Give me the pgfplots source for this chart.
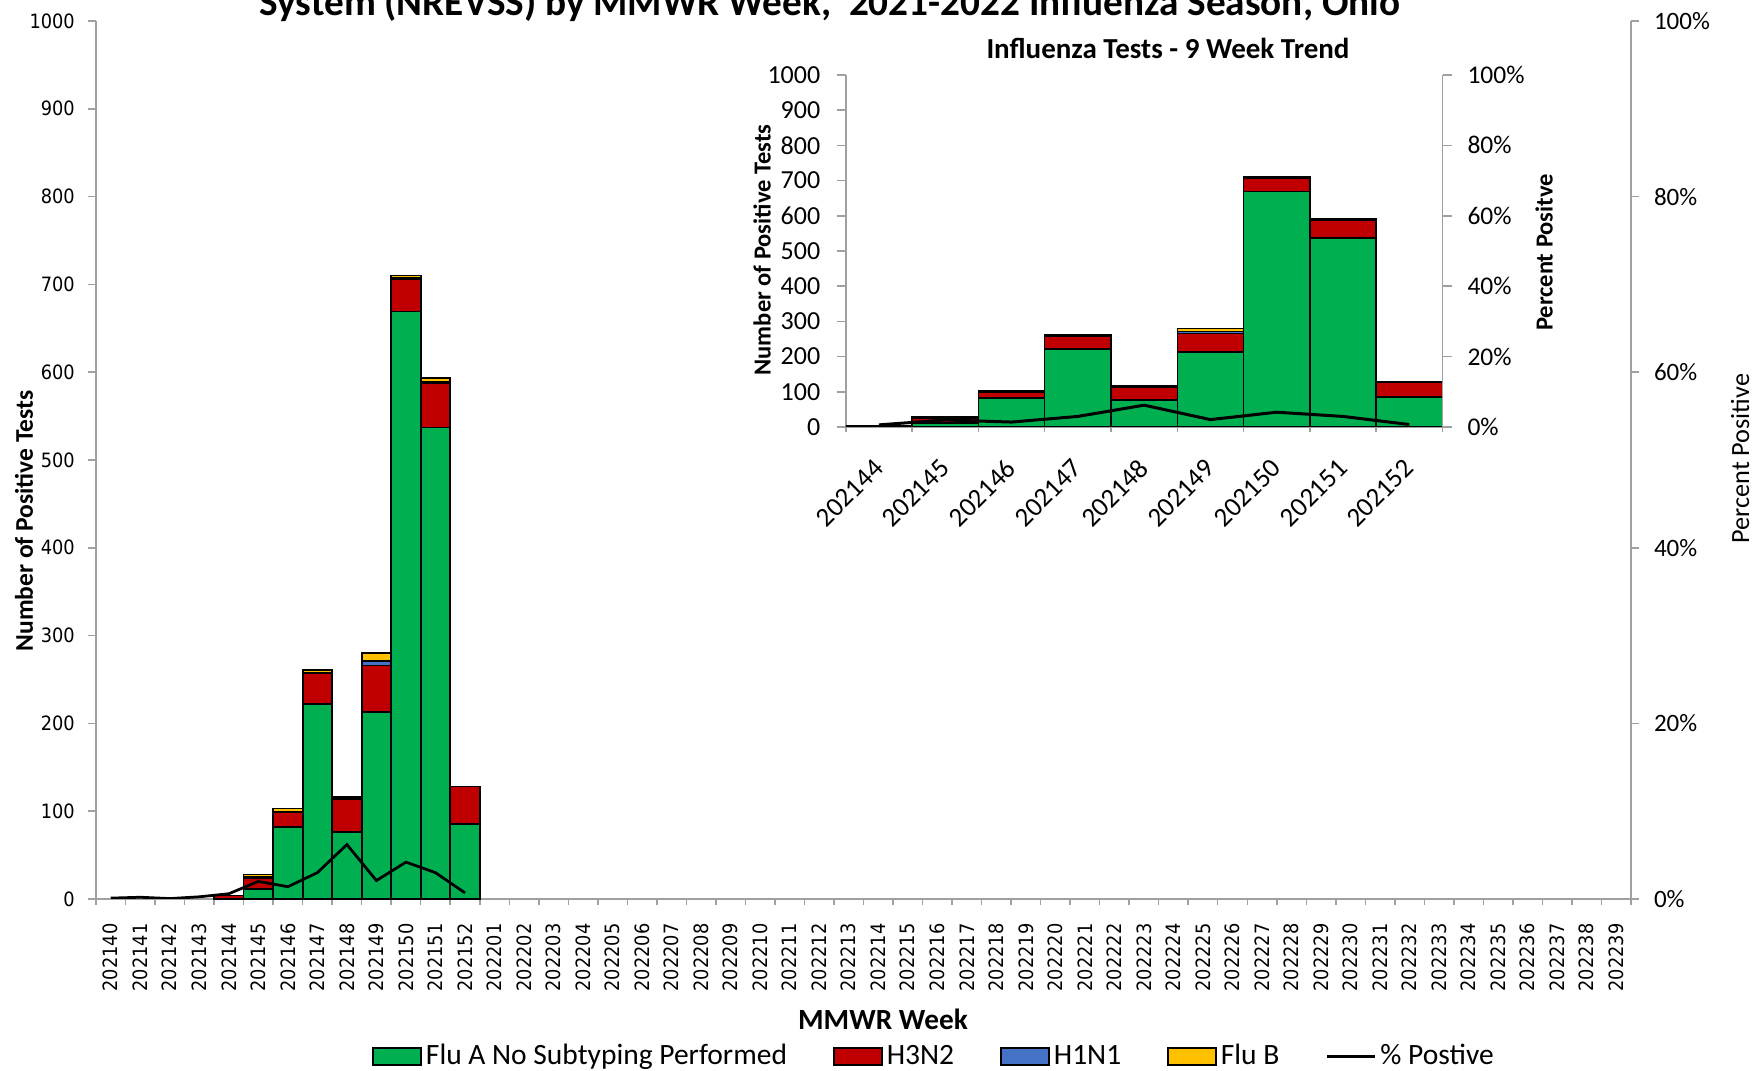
\documentclass[border=0pt]{standalone}
\usepackage{fontspec}
\setmainfont{Carlito}
\newfontfamily\tickfont[FakeStretch=0.9]{DejaVu Sans}
\usepackage{pgfplots}
\usepackage{pgfplotstable}
\pgfplotsset{compat=1.18}
\definecolor{fluA}{HTML}{00B050}
\definecolor{hthree}{HTML}{C00000}
\definecolor{hone}{HTML}{4472C4}
\definecolor{flub}{HTML}{FFC000}
\definecolor{axgray}{HTML}{A0A0A0}
\pgfplotsset{
  barleg/.style={legend image code/.code={\draw[##1] (0pt,-3.4pt) rectangle (19.2pt,3.4pt);}},
  lineleg/.style={legend image code/.code={\draw[##1] (0pt,0pt) -- (19.2pt,0pt);}},
}

% week index (0 = 202140), Flu A no subtyping, H3N2, H1N1, Flu B
\pgfplotstableread{
x A H3 H1 B
4 0 4 0 0
5 11 13 1 3
6 82 17 0 4
7 222 35 0 4
8 76 38 0 2
9 213 53 5 9
10 669 37 1 3
11 537 51 1 4
12 85 43 0 0
}\bars

% percent positive
\pgfplotstableread{
x p
0 0.1
1 0.2
2 0.05
3 0.25
4 0.6
5 2.0
6 1.4
7 3.0
8 6.2
9 2.1
10 4.2
11 3.0
12 0.7
}\pct

\begin{document}
\begin{tikzpicture}
\useasboundingbox (0,0) rectangle (700.8pt,428pt);

% ---------------- main chart ----------------
\begin{axis}[
  at={(38.4pt,68.4pt)}, anchor=south west, scale only axis,
  width=614pt, height=351.2pt,
  xmin=-0.5, xmax=51.5, ymin=0, ymax=1000,
  ybar stacked, bar width=1,
  axis x line*=bottom, axis y line*=left,
  axis line style={axgray, line width=0.6pt},
  tick align=outside,
  xtick={0,...,51},
  xticklabels={202140,202141,202142,202143,202144,202145,202146,202147,202148,202149,202150,202151,202152,
    202201,202202,202203,202204,202205,202206,202207,202208,202209,202210,202211,202212,202213,202214,
    202215,202216,202217,202218,202219,202220,202221,202222,202223,202224,202225,202226,202227,202228,
    202229,202230,202231,202232,202233,202234,202235,202236,202237,202238,202239},
  major x tick style={draw=none},
  minor xtick={-0.5,0.5,...,51.5},
  minor x tick style={axgray, line width=0.6pt},
  minor tick length=2.3pt,
  major tick length=3.3pt,
  ytick={0,100,...,1000},
  yticklabels={0,100,200,300,400,500,600,700,800,900,1000},
  y tick style={axgray, line width=0.6pt},
  xticklabel style={font=\tickfont\fontsize{7.9}{8}\selectfont, rotate=90, anchor=east, inner sep=0pt},
  xticklabel shift=6.3pt,
  yticklabel style={font=\tickfont\fontsize{7.9}{8}\selectfont, anchor=east, inner sep=0pt},
  yticklabel shift=5pt,
  legend style={at={(0.1798,-0.1795)}, anchor=west, draw=none, fill=none,
    legend columns=-1, inner sep=0pt,
    font=\fontsize{11.8}{12}\selectfont,
    nodes={inner sep=1.5pt},
    /tikz/every even column/.append style={column sep=17pt}},
  barleg,
]
\addplot[fill=fluA, draw=black, line width=0.7pt] table[x=x, y=A]{\bars};
\addplot[fill=hthree, draw=black, line width=0.7pt] table[x=x, y=H3]{\bars};
\addplot[fill=hone, draw=black, line width=0.7pt] table[x=x, y=H1]{\bars};
\addplot[fill=flub, draw=black, line width=0.7pt] table[x=x, y=B]{\bars};
\addlegendimage{black, line width=1.2pt, lineleg}
\legend{Flu A No Subtyping Performed, H3N2, H1N1, Flu B, \% Postive}
\end{axis}

\begin{axis}[
  at={(38.4pt,68.4pt)}, anchor=south west, scale only axis,
  width=614pt, height=351.2pt,
  xmin=-0.5, xmax=51.5, ymin=0, ymax=100,
  axis x line=none, axis y line*=right,
  axis line style={axgray, line width=0.6pt},
  tick align=outside, major tick length=3.2pt,
  ytick={0,20,...,100},
  yticklabels={0\%,20\%,40\%,60\%,80\%,100\%},
  y tick style={axgray, line width=0.6pt},
  yticklabel style={font=\fontsize{10}{10}\selectfont, anchor=west, inner sep=0pt},
  yticklabel shift=5.8pt,
]
\addplot[black, line width=1.1pt, mark=none] table[x=x, y=p]{\pct};
\end{axis}

% ---------------- inset chart ----------------
\begin{axis}[
  at={(338.3pt,257.2pt)}, anchor=south west, scale only axis,
  width=238.7pt, height=140.8pt,
  xmin=-0.5, xmax=8.5, ymin=0, ymax=1000,
  ybar stacked, bar width=1,
  axis x line*=bottom, axis y line*=left,
  axis line style={axgray, line width=0.6pt},
  tick align=outside,
  xtick={0,...,8},
  xticklabels={202144,202145,202146,202147,202148,202149,202150,202151,202152},
  major x tick style={draw=none},
  minor xtick={-0.5,0.5,...,8.5},
  minor x tick style={axgray, line width=0.6pt},
  minor tick length=2pt,
  major tick length=3.7pt,
  ytick={0,100,...,1000},
  yticklabels={0,100,200,300,400,500,600,700,800,900,1000},
  y tick style={axgray, line width=0.6pt},
  xticklabel style={font=\fontsize{10.8}{10}\selectfont, rotate=45, anchor=east, inner sep=0pt},
  xticklabel shift=11pt,
  yticklabel style={font=\fontsize{10.4}{10}\selectfont, anchor=east, inner sep=0pt},
  yticklabel shift=6.3pt,
]
\addplot[fill=fluA, draw=black, line width=0.6pt] table[x expr=\thisrow{x}-4, y=A]{\bars};
\addplot[fill=hthree, draw=black, line width=0.6pt] table[x expr=\thisrow{x}-4, y=H3]{\bars};
\addplot[fill=hone, draw=black, line width=0.6pt] table[x expr=\thisrow{x}-4, y=H1]{\bars};
\addplot[fill=flub, draw=black, line width=0.6pt] table[x expr=\thisrow{x}-4, y=B]{\bars};
\end{axis}

\begin{axis}[
  at={(338.3pt,257.2pt)}, anchor=south west, scale only axis,
  width=238.7pt, height=140.8pt,
  xmin=-0.5, xmax=8.5, ymin=0, ymax=100,
  axis x line=none, axis y line*=right,
  axis line style={axgray, line width=0.6pt},
  tick align=outside, major tick length=3.7pt,
  ytick={0,20,...,100},
  yticklabels={0\%,20\%,40\%,60\%,80\%,100\%},
  y tick style={axgray, line width=0.6pt},
  yticklabel style={font=\fontsize{10.2}{10}\selectfont, anchor=west, inner sep=0pt},
  yticklabel shift=6.1pt,
]
\addplot[black, line width=1.2pt, mark=none] table[x expr=\thisrow{x}-4, y=p, skip coords between index={0}{4}]{\pct};
\end{axis}

% ---------------- texts ----------------
\node[anchor=base west, font=\bfseries\fontsize{15.7}{16}\selectfont, inner sep=0pt]
  at (103.6pt,421.8pt) {System (NREVSS) by MMWR Week,\ \ 2021-2022 Influenza Season, Ohio};
\node[rotate=90, font=\bfseries\fontsize{10.2}{10}\selectfont, inner sep=0pt]
  at (9.6pt,219.6pt) {Number of Positive Tests};
\node[rotate=90, font=\fontsize{10.5}{10}\selectfont, inner sep=0pt]
  at (696pt,244.5pt) {Percent Positive};
\node[font=\bfseries\fontsize{11.7}{12}\selectfont, inner sep=0pt]
  at (353.2pt,20.4pt) {MMWR Week};
\node[font=\bfseries\fontsize{11.6}{12}\selectfont, inner sep=0pt]
  at (467.2pt,408.8pt) {Influenza Tests - 9 Week Trend};
\node[rotate=90, font=\bfseries\fontsize{9.8}{10}\selectfont, inner sep=0pt]
  at (304.8pt,328pt) {Number of Positive Tests};
\node[rotate=90, font=\bfseries\fontsize{9.8}{10}\selectfont, inner sep=0pt]
  at (617.6pt,327pt) {Percent Positve};
\end{tikzpicture}
\end{document}
